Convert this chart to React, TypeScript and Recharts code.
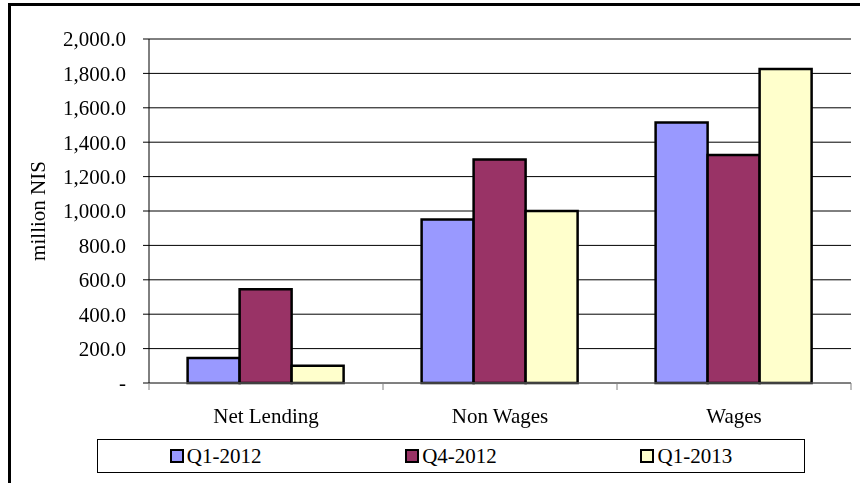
import React from 'react';
import { BarChart, Bar, XAxis, YAxis, CartesianGrid, Legend } from 'recharts';

const categories = ['Net Lending', 'Non Wages', 'Wages'];
const q1_2012 = [145, 950, 1515];
const q4_2012 = [545, 1300, 1325];
const q1_2013 = [100, 1000, 1825];
const yTicks = [0, 200, 400, 600, 800, 1000, 1200, 1400, 1600, 1800, 2000];

const seriesNames = ['Q1-2012', 'Q4-2012', 'Q1-2013'];
const seriesColors = ['#9999FF', '#993366', '#FFFFCC'];

const data = categories.map((c, i) => ({
  name: c,
  s0: q1_2012[i],
  s1: q4_2012[i],
  s2: q1_2013[i],
}));

const FONT = '"Liberation Serif", "Times New Roman", serif';

const fmt = (v: number) =>
  v === 0 ? '-' : v.toLocaleString('en-US', { minimumFractionDigits: 1, maximumFractionDigits: 1 });

const CatTick = (props: any) => {
  const { x, y, payload, index, width, visibleTicksCount } = props;
  const band = width / visibleTicksCount;
  return (
    <g>
      <line x1={x - band / 2} y1={y} x2={x - band / 2} y2={y + 7} stroke="#808080" strokeWidth={1} />
      {index === visibleTicksCount - 1 && (
        <line x1={x + band / 2} y1={y} x2={x + band / 2} y2={y + 7} stroke="#808080" strokeWidth={1} />
      )}
      <text x={x} y={y + 40} textAnchor="middle" fontFamily={FONT} fontSize={21} fill="#000">
        {payload.value}
      </text>
    </g>
  );
};

const YLabel = (props: any) => {
  const vb = props.viewBox || {};
  const cy = vb.y + vb.height / 2;
  const cx = 45;
  return (
    <text
      x={cx}
      y={cy}
      transform={`rotate(-90 ${cx} ${cy})`}
      textAnchor="middle"
      fontFamily={FONT}
      fontSize={21}
      fill="#000"
    >
      million NIS
    </text>
  );
};

const LegendBox = () => (
  <div
    style={{
      boxSizing: 'border-box',
      width: '100%',
      height: 34,
      border: '1px solid #000',
      display: 'flex',
      background: '#fff',
    }}
  >
    {seriesNames.map((n, i) => (
      <div
        key={n}
        style={{ flex: 1, display: 'flex', alignItems: 'center', justifyContent: 'center' }}
      >
        <span
          style={{
            display: 'inline-block',
            boxSizing: 'border-box',
            width: 14,
            height: 14,
            border: '2px solid #000',
            background: seriesColors[i],
            marginRight: 3,
          }}
        />
        <span style={{ fontFamily: FONT, fontSize: 21, lineHeight: 1, color: '#000' }}>{n}</span>
      </div>
    ))}
  </div>
);

export default function App() {
  return (
    <div>
      <div
        style={{
          position: 'fixed',
          left: 8,
          top: 3,
          width: 900,
          height: 600,
          border: '3px solid #000',
          boxSizing: 'border-box',
        }}
      />
      <div style={{ position: 'fixed', left: 0, top: 0, width: 860, height: 483 }}>
        <BarChart
          width={860}
          height={483}
          data={data}
          margin={{ top: 39, right: 9, bottom: 0, left: 0 }}
          barCategoryGap="16.5%"
          barGap={0}
        >
          <CartesianGrid horizontal vertical={false} stroke="#000" strokeDasharray="" />
          <XAxis
            dataKey="name"
            height={100}
            axisLine={{ stroke: '#808080' }}
            tickLine={false}
            tickSize={0}
            tickMargin={0}
            interval={0}
            tick={<CatTick />}
          />
          <YAxis
            width={149}
            domain={[0, 2000]}
            ticks={yTicks}
            interval={0}
            tickFormatter={fmt}
            axisLine={{ stroke: '#000' }}
            tickLine={{ stroke: '#000' }}
            tickSize={6}
            tickMargin={17}
            tick={{ fontFamily: FONT, fontSize: 21, fill: '#000' }}
            label={<YLabel />}
          />
          <Legend
            layout="horizontal"
            verticalAlign="middle"
            align="center"
            content={<LegendBox />}
            wrapperStyle={{ position: 'absolute', left: 97, top: 439, width: 708, height: 34 }}
          />
          <Bar dataKey="s0" name={seriesNames[0]} fill={seriesColors[0]} stroke="#000" strokeWidth={2.5} isAnimationActive={false} />
          <Bar dataKey="s1" name={seriesNames[1]} fill={seriesColors[1]} stroke="#000" strokeWidth={2.5} isAnimationActive={false} />
          <Bar dataKey="s2" name={seriesNames[2]} fill={seriesColors[2]} stroke="#000" strokeWidth={2.5} isAnimationActive={false} />
        </BarChart>
      </div>
    </div>
  );
}
